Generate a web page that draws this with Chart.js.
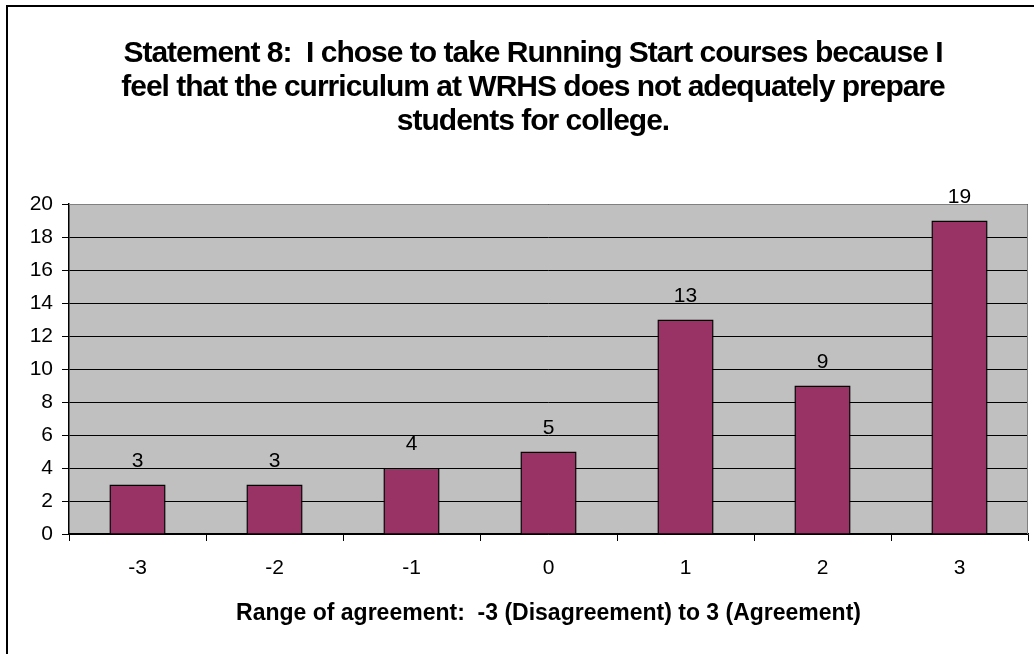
<!DOCTYPE html>
<html>
<head>
<meta charset="utf-8">
<script src="https://cdn.jsdelivr.net/npm/chart.js@4"></script>
<style>
  html, body { margin: 0; padding: 0; background: #fff; }
  #wrap { width: 1034px; height: 654px; }
</style>
</head>
<body>
<div id="wrap"><canvas id="chart" width="1034" height="654"></canvas></div>
<script>
const categories = ["-3", "-2", "-1", "0", "1", "2", "3"];
const responses = [3, 3, 4, 5, 13, 9, 19];
const yTicks = [0, 2, 4, 6, 8, 10, 12, 14, 16, 18, 20];
const titleLines = [
  "Statement 8:  I chose to take Running Start courses because I",
  "feel that the curriculum at WRHS does not adequately prepare",
  "students for college."
];
const xTitle = "Range of agreement:  -3 (Disagreement) to 3 (Agreement)";

const FONT = "'Liberation Sans', Arial, sans-serif";

// gray plot background, outer frame, title and value labels
const decor = {
  id: "decor",
  beforeDraw(chart) {
    const { ctx, chartArea: a } = chart;
    ctx.save();
    ctx.fillStyle = "#c0c0c0";
    ctx.fillRect(a.left, a.top, a.right - a.left, a.bottom - a.top);
    ctx.strokeStyle = "#000";
    ctx.lineWidth = 2;
    ctx.strokeRect(7, 6, 1200, 1000);

    // title, squeezed like the original
    ctx.fillStyle = "#000";
    ctx.font = "bold 30px " + FONT;
    ctx.letterSpacing = "-1px";
    ctx.textAlign = "center";
    ctx.textBaseline = "middle";
    titleLines.forEach((line, i) => ctx.fillText(line, 533, 54 + i * 34));
    ctx.restore();
  },
  afterDatasetsDraw(chart) {
    const { ctx, chartArea: a } = chart;
    ctx.save();
    ctx.strokeStyle = "#808080";
    ctx.lineWidth = 1;
    ctx.beginPath();
    ctx.moveTo(a.left, a.top + 0.5);
    ctx.lineTo(a.right - 0.5, a.top + 0.5);
    ctx.lineTo(a.right - 0.5, a.bottom);
    ctx.stroke();

    const meta = chart.getDatasetMeta(0);
    ctx.fillStyle = "#000";
    ctx.font = "21px " + FONT;
    ctx.textAlign = "center";
    ctx.textBaseline = "alphabetic";
    meta.data.forEach((bar, i) => {
      ctx.fillText(String(responses[i]), bar.x, bar.y - 18);
    });
    ctx.restore();
  }
};

new Chart(document.getElementById("chart"), {
  type: "bar",
  data: {
    labels: categories,
    datasets: [{
      data: responses,
      backgroundColor: "#993366",
      borderColor: "#000",
      borderWidth: 1.5,
      barPercentage: 0.41,
      categoryPercentage: 1
    }]
  },
  options: {
    responsive: false,
    animation: false,
    events: [],
    layout: { padding: { left: 0, right: 6, top: 204, bottom: 0 } },
    plugins: {
      legend: { display: false },
      tooltip: { enabled: false },
      title: { display: false }
    },
    scales: {
      x: {
        grid: {
          offset: true,
          drawOnChartArea: false,
          color: "#000",
          tickLength: 7,
          tickColor: "#000"
        },
        border: { color: "#000", width: 1.5 },
        ticks: { color: "#000", font: { family: FONT, size: 21 }, padding: 15 },
        title: {
          display: true,
          text: xTitle,
          color: "#000",
          font: { family: FONT, size: 23, weight: "bold" },
          padding: { top: 0, bottom: 27 }
        },
        afterFit(scale) { scale.height = 120; }
      },
      y: {
        min: 0,
        max: 20,
        afterBuildTicks(scale) { scale.ticks = yTicks.map(v => ({ value: v })); },
        grid: { color: "#000", tickLength: 7, tickColor: "#000" },
        border: { color: "#000", width: 1.5 },
        ticks: { color: "#000", font: { family: FONT, size: 21 }, padding: 9 },
        afterFit(scale) { scale.width = 69; }
      }
    }
  },
  plugins: [decor]
});
</script>
</body>
</html>
